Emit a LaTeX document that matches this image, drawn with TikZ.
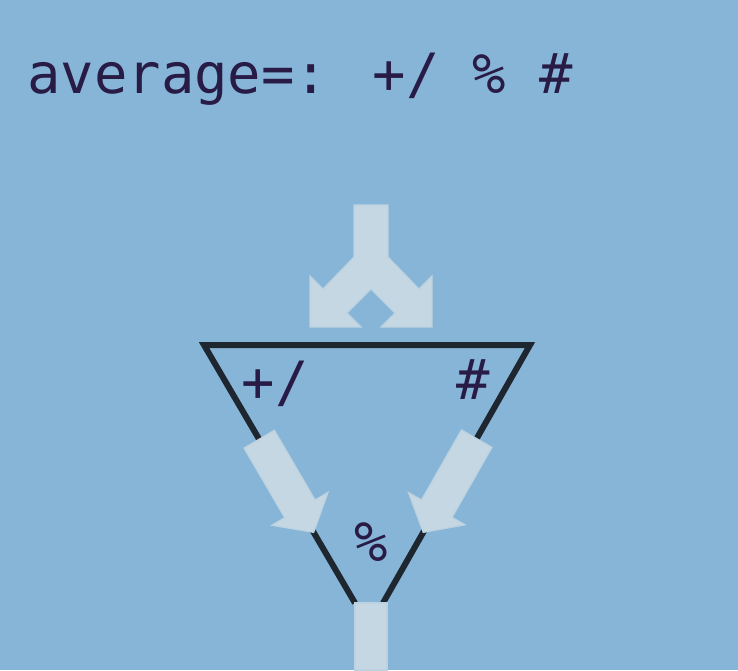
\documentclass[tikz,border=0pt]{standalone}
\usepackage{fontspec}
\newfontfamily\codefont{DejaVu Sans Mono}
\usetikzlibrary{shapes.arrows,calc}
\definecolor{board}{HTML}{87B5D8}
\definecolor{pipe}{HTML}{C5D7E2}
\definecolor{ink}{HTML}{281C46}
\definecolor{rim}{HTML}{1E2630}

\begin{document}
\begin{tikzpicture}[x=0.5pt,y=-0.5pt,
  code/.style={font=\codefont\fontsize{27.75}{33}\selectfont,text=ink,inner sep=0pt},
  flow/.style={fill=pipe,draw=pipe!85!board,line width=0.6pt},
  blockarr/.style={flow,single arrow,minimum height=54pt,inner xsep=0pt,
    inner ysep=8.5pt,single arrow head extend=7.5pt,single arrow tip angle=100},
  edge/.style={draw=rim,line width=3pt}
]
  \fill[board] (0,0) rectangle (738,670);
  \useasboundingbox (0,0) rectangle (738,670);

  \node[code,anchor=base west] (avg) at (27,93) {average=: +/ \% \#};

  \coordinate (tl) at (204,345);
  \coordinate (tr) at (530,345);
  \coordinate (bl) at (355,603);
  \coordinate (br) at (383,603);
  \draw[edge] (bl) -- (tl) -- (tr) -- (br);

  \filldraw[flow] (354,205) -- (388,205) -- (388,257) -- (419,289) -- (432,276)
    -- (432,327) -- (381,327) -- (395,313) -- (371,289) -- (347,313) -- (361,327)
    -- (310,327) -- (310,276) -- (323,289) -- (354,257) -- cycle;

  \node[blockarr,rotate=-59.7,anchor=tip] (lhs) at ($(tl)!0.729!(bl)$) {};
  \node[blockarr,rotate=-119.7,anchor=tip] (rhs) at ($(tr)!0.729!(br)$) {};
  \filldraw[flow] (355,603) rectangle (387,670);

  \node[code,anchor=base] (sum) at (275,401) {+/};
  \node[code,anchor=base] (tally) at (473,399) {\#};
  \node[code,anchor=base] (divide) at (371,561) {\%};
\end{tikzpicture}
\end{document}
